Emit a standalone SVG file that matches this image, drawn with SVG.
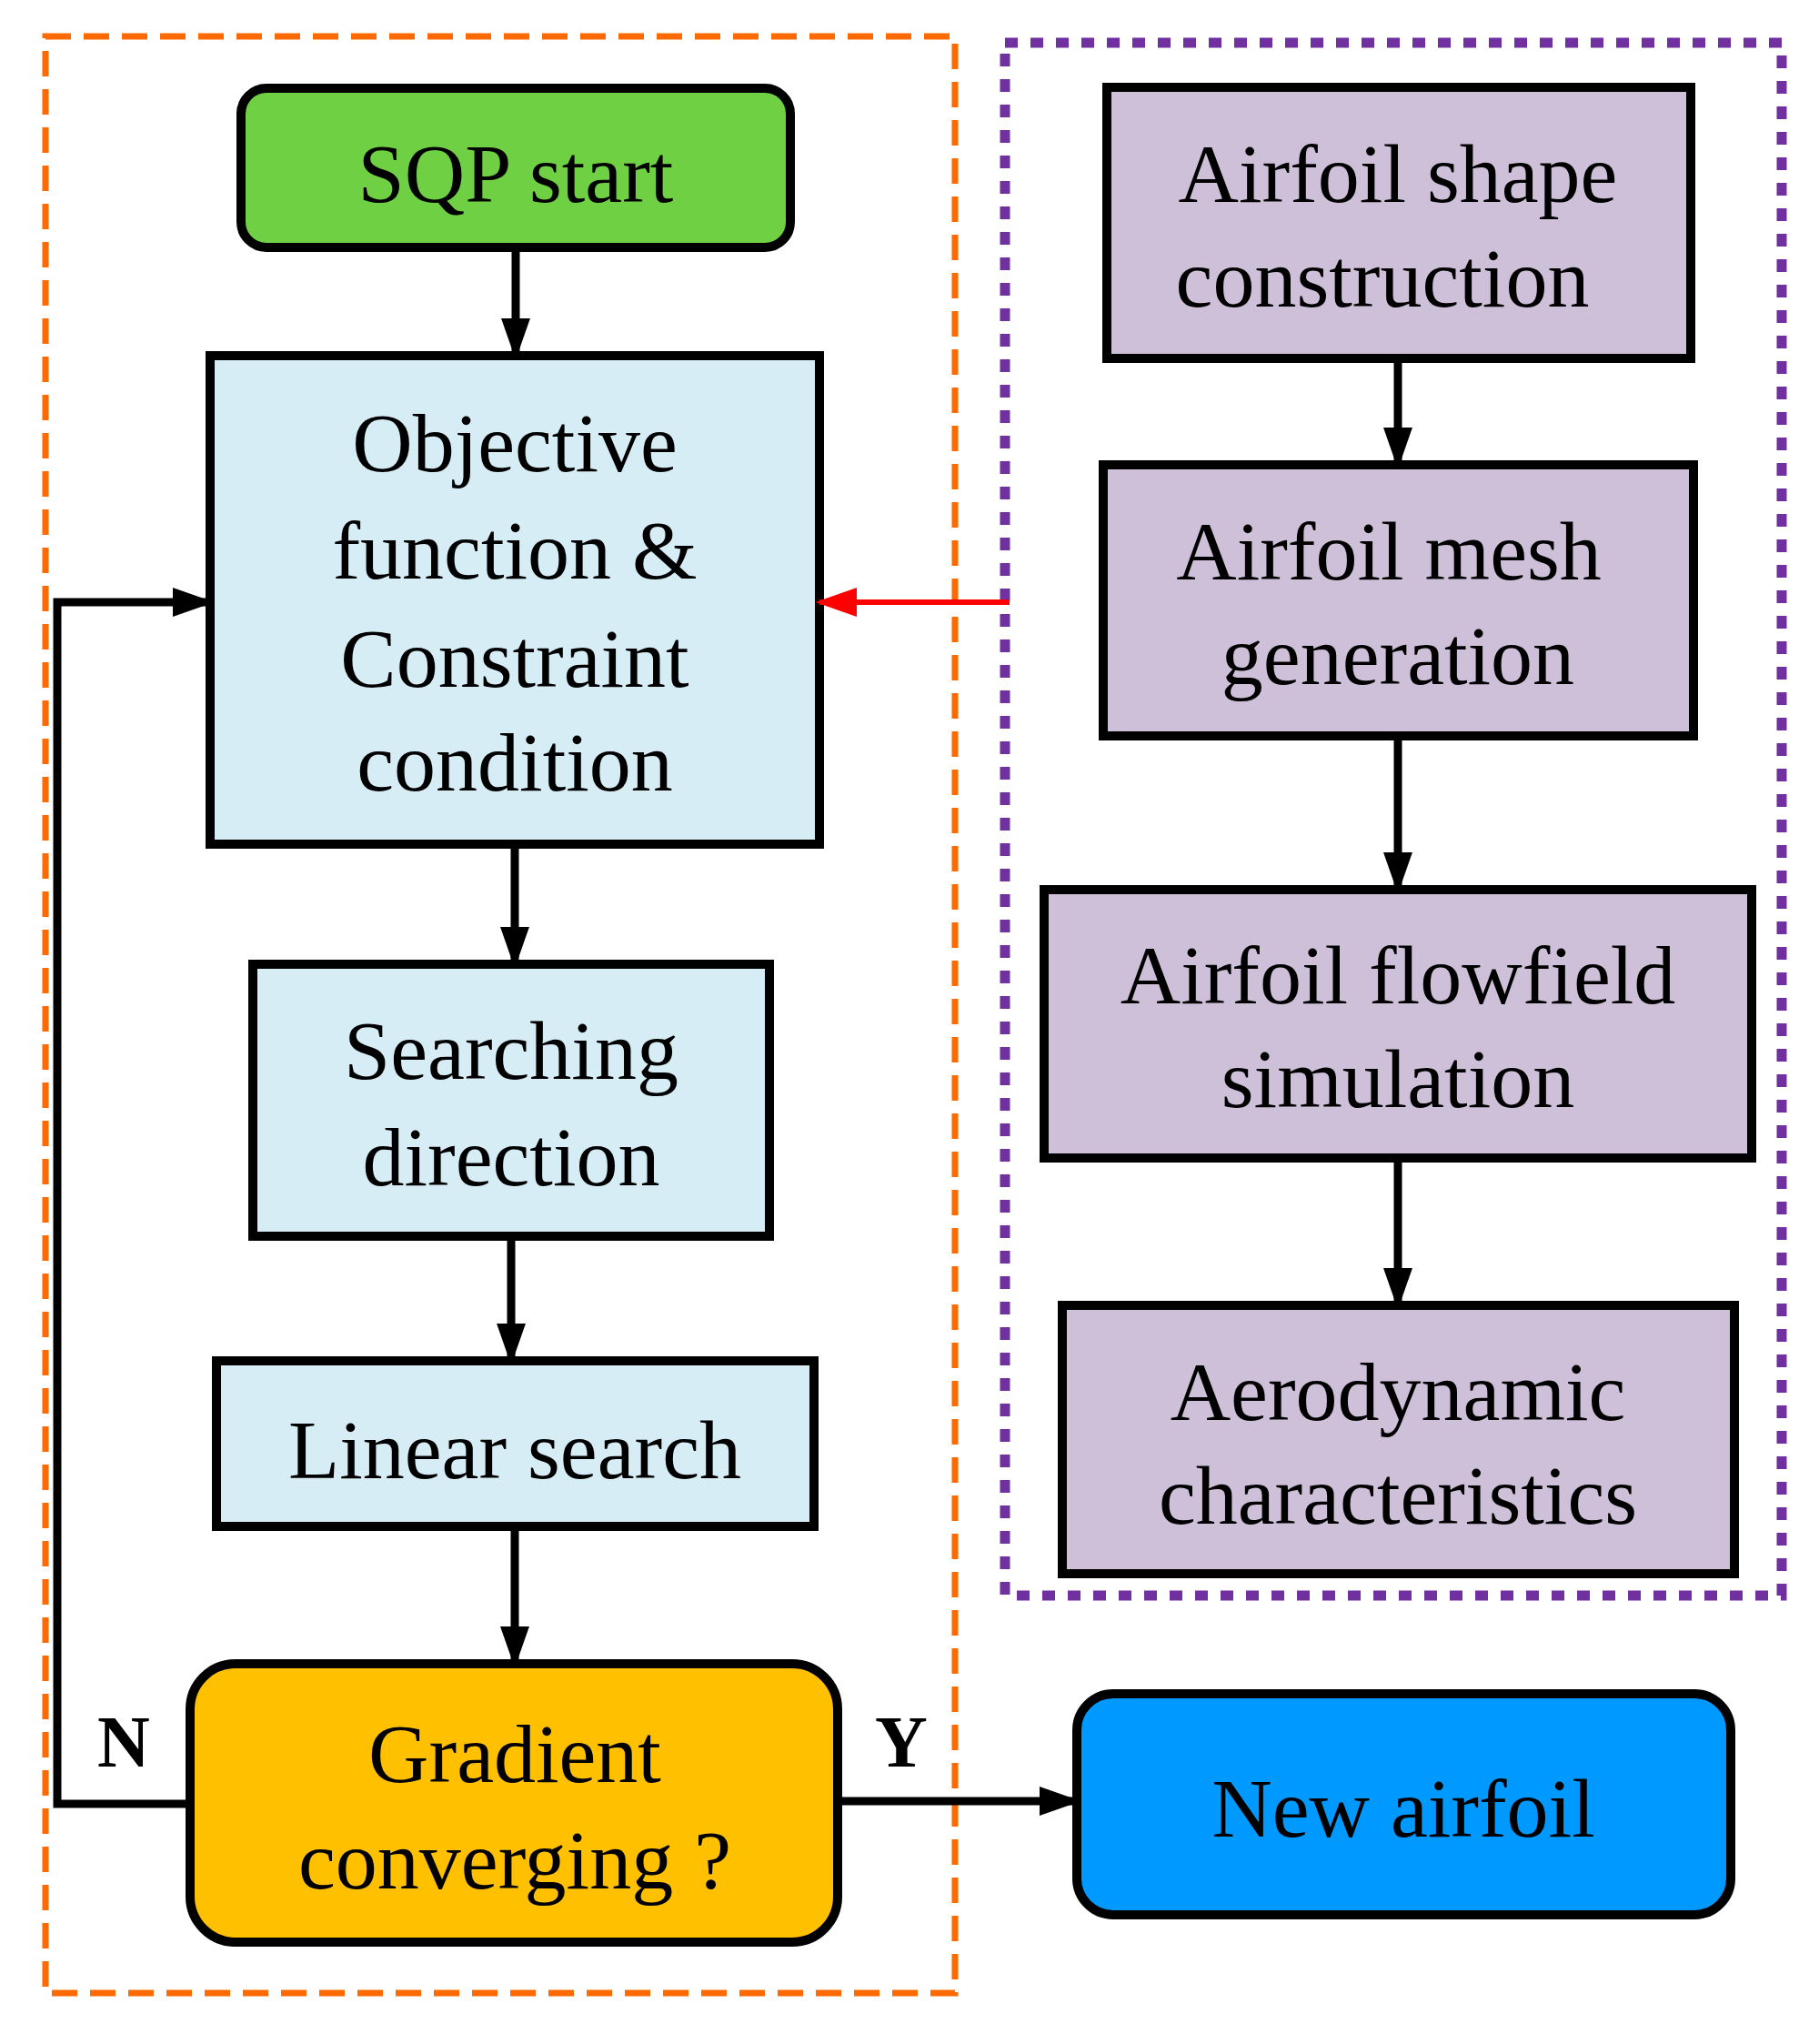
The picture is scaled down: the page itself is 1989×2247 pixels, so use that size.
<svg xmlns="http://www.w3.org/2000/svg" width="1989" height="2247" viewBox="0 0 1989 2247">
<style>
.n{stroke:#000;stroke-width:10}
.t{font-family:"Liberation Serif","Times New Roman",serif;font-size:92px;text-anchor:middle;fill:#000}
.c{stroke:#000;stroke-width:9;fill:none}
</style>
<defs>
<marker id="a" markerWidth="10" markerHeight="10" refX="9" refY="5" orient="auto" markerUnits="userSpaceOnUse" viewBox="0 0 10 10"><path d="M0,0L10,5L0,10z" fill="#000"/></marker>
<marker id="ah" viewBox="0 0 10 10" refX="9" refY="5" markerWidth="46" markerHeight="46" orient="auto" markerUnits="userSpaceOnUse"><path d="M0,1.5L10,5L0,8.5z" fill="#000"/></marker>
<marker id="ar" viewBox="0 0 10 10" refX="9" refY="5" markerWidth="46" markerHeight="46" orient="auto" markerUnits="userSpaceOnUse"><path d="M0,1.5L10,5L0,8.5z" fill="#f00"/></marker>
</defs>
<rect width="1989" height="2247" fill="#fff"/>
<rect x="50" y="40" width="1000" height="2151" fill="none" stroke="#ff6a00" stroke-width="7" stroke-dasharray="28 14"/>
<rect x="1105" y="47" width="854" height="1707" fill="none" stroke="#7030a0" stroke-width="11" stroke-dasharray="14 14"/>
<g id="sqp"><rect class="n" x="265" y="97" width="604" height="175" rx="28" fill="#6fd043"/><text class="t" x="567" y="222">SQP start</text></g>
<g id="obj"><rect class="n" x="231" y="391" width="670" height="537" fill="#d6edf5"/><text class="t" x="566" y="518">Objective</text><text class="t" x="566" y="636">function &amp;</text><text class="t" x="566" y="755">Constraint</text><text class="t" x="566" y="869">condition</text></g>
<g id="search"><rect class="n" x="278" y="1060" width="568" height="299" fill="#d6edf5"/><text class="t" x="562" y="1186">Searching</text><text class="t" x="562" y="1303">direction</text></g>
<g id="linear"><rect class="n" x="238" y="1496" width="657" height="182" fill="#d6edf5"/><text class="t" x="566" y="1625">Linear search</text></g>
<g id="grad"><rect class="n" x="209" y="1829" width="712" height="306" rx="50" fill="#ffc000"/><text class="t" x="566" y="1959">Gradient</text><text class="t" x="566" y="2076">converging ?</text></g>
<g id="new"><rect class="n" x="1184" y="1862" width="719" height="243" rx="40" fill="#0099ff"/><text class="t" x="1543" y="2019">New airfoil</text></g>
<g id="shape"><rect class="n" x="1217" y="96" width="642" height="298" fill="#cfc0da"/><text class="t" x="1537" y="222">Airfoil shape</text><text class="t" x="1520" y="337">construction</text></g>
<g id="mesh"><rect class="n" x="1213" y="511" width="649" height="298" fill="#cfc0da"/><text class="t" x="1527" y="637">Airfoil mesh</text><text class="t" x="1537" y="752">generation</text></g>
<g id="flow"><rect class="n" x="1148" y="978" width="778" height="295" fill="#cfc0da"/><text class="t" x="1537" y="1103">Airfoil flowfield</text><text class="t" x="1537" y="1217">simulation</text></g>
<g id="aero"><rect class="n" x="1168" y="1435" width="739" height="295" fill="#cfc0da"/><text class="t" x="1537" y="1561">Aerodynamic</text><text class="t" x="1537" y="1675">characteristics</text></g>
<g id="connectors">
<path class="c" d="M567,272V391" marker-end="url(#ah)"/>
<path class="c" d="M566,928V1060" marker-end="url(#ah)"/>
<path class="c" d="M562,1359V1496" marker-end="url(#ah)"/>
<path class="c" d="M566,1678V1829" marker-end="url(#ah)"/>
<path class="c" d="M1537,394V511" marker-end="url(#ah)"/>
<path class="c" d="M1537,809V978" marker-end="url(#ah)"/>
<path class="c" d="M1537,1273V1435" marker-end="url(#ah)"/>
<path d="M1110,662H901" stroke="#f00" stroke-width="6" fill="none" marker-end="url(#ar)"/>
<path class="c" d="M209,1983H63V662H231" marker-end="url(#ah)"/>
<path class="c" d="M921,1980H1184" marker-end="url(#ah)"/>
<text x="136" y="1942" style="font-family:'Liberation Serif',serif;font-size:80px;font-weight:bold;text-anchor:middle">N</text>
<text x="991" y="1942" style="font-family:'Liberation Serif',serif;font-size:80px;font-weight:bold;text-anchor:middle">Y</text>
</g>
</svg>
